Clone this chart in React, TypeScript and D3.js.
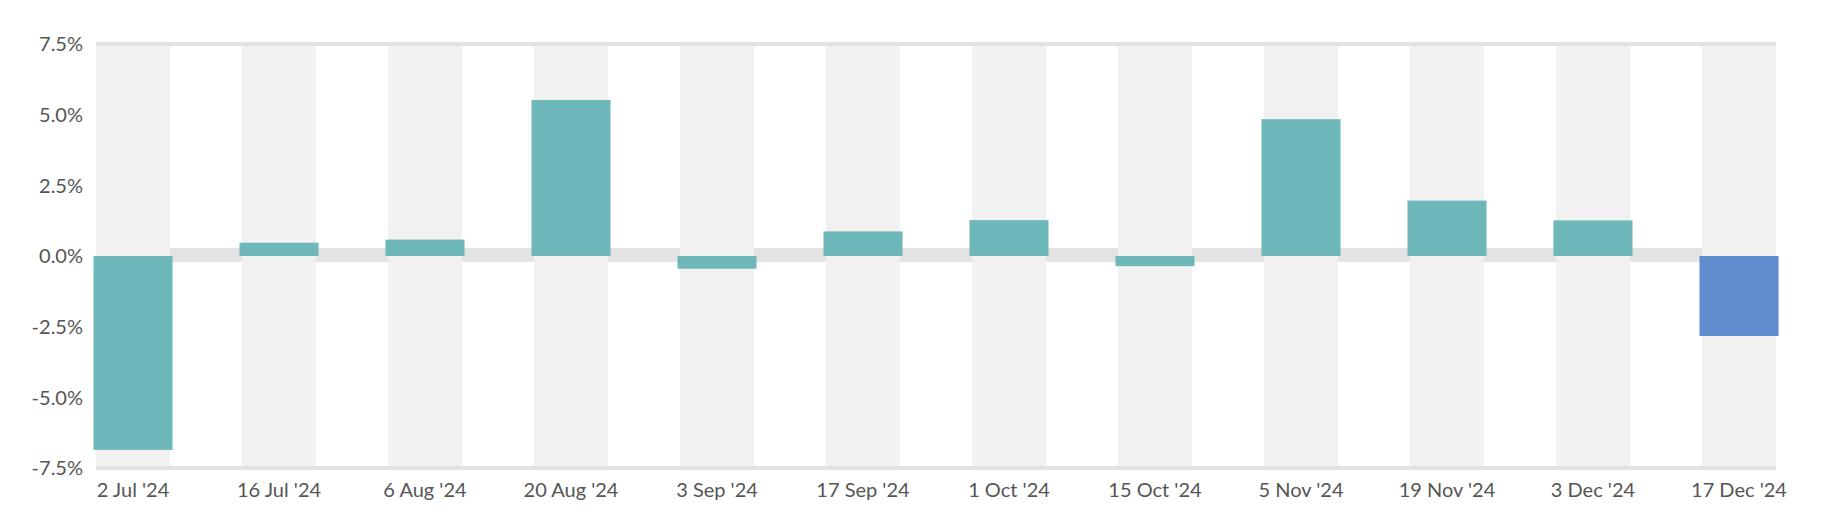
import React from "react";
import * as d3 from "d3";

const categories = ["2 Jul '24", "16 Jul '24", "6 Aug '24", "20 Aug '24", "3 Sep '24", "17 Sep '24", "1 Oct '24", "15 Oct '24", "5 Nov '24", "19 Nov '24", "3 Dec '24", "17 Dec '24"];
const values = [-6.86, 0.47, 0.58, 5.52, -0.45, 0.87, 1.27, -0.36, 4.84, 1.96, 1.26, -2.83];
const highlight = [false, false, false, false, false, false, false, false, false, false, false, true];
const yTicks = [7.5, 5.0, 2.5, 0.0, -2.5, -5.0, -7.5];

const W = 1831;
const H = 519;
const left = 96;
const right = 1776;
const top = 44;
const bottom = 468;

export default function App() {
  const x = d3.scaleBand<string>().domain(categories).range([left, right]).paddingInner(0.493).paddingOuter(0);
  const y = d3.scaleLinear().domain([-7.5, 7.5]).range([bottom, top]);
  const bw = x.bandwidth();
  const font = "Lato, 'Open Sans', sans-serif";
  const ext = 2.5;
  const fmt = (t: number) => d3.format(".1f")(t).replace("\u2212", "-") + "%";
  return (
    <svg width={W} height={H} style={{ position: "absolute", left: 0, top: 0, background: "#fff" }}>
      {/* grid lines */}
      <line x1={left} x2={right} y1={y(7.5)} y2={y(7.5)} stroke="#e3e3e3" strokeWidth={4} />
      <line x1={left} x2={right} y1={y(-7.5)} y2={y(-7.5)} stroke="#e3e3e3" strokeWidth={4} />
      <line x1={left} x2={right} y1={y(0) - 1} y2={y(0) - 1} stroke="#e3e3e3" strokeWidth={14} />
      {/* alternating bands */}
      {categories.map((c) => (
        <rect key={"b" + c} x={x(c)} y={y(7.5) + 2} width={bw} height={y(-7.5) - y(7.5) - 4} fill="#f1f1f1" />
      ))}
      {/* bars */}
      {categories.map((c, i) => {
        const v = values[i];
        const y0 = y(0);
        const y1 = y(v);
        return (
          <rect
            key={"r" + c}
            x={(x(c) as number) - ext}
            y={Math.min(y0, y1)}
            width={bw + ext * 2}
            height={Math.abs(y1 - y0)}
            fill={highlight[i] ? "#5f8ccd" : "#6eb8ba"}
          />
        );
      })}
      {/* y labels */}
      {yTicks.map((t) => (
        <text key={"y" + t} x={83} y={y(t)} dy="0.36em" textAnchor="end" fontFamily={font} fontSize={20} fill="#555">
          {fmt(t)}
        </text>
      ))}
      {/* x labels */}
      {categories.map((c) => (
        <text key={"x" + c} x={(x(c) as number) + bw / 2} y={497} textAnchor="middle" fontFamily={font} fontSize={20} fill="#555">
          {c}
        </text>
      ))}
    </svg>
  );
}
